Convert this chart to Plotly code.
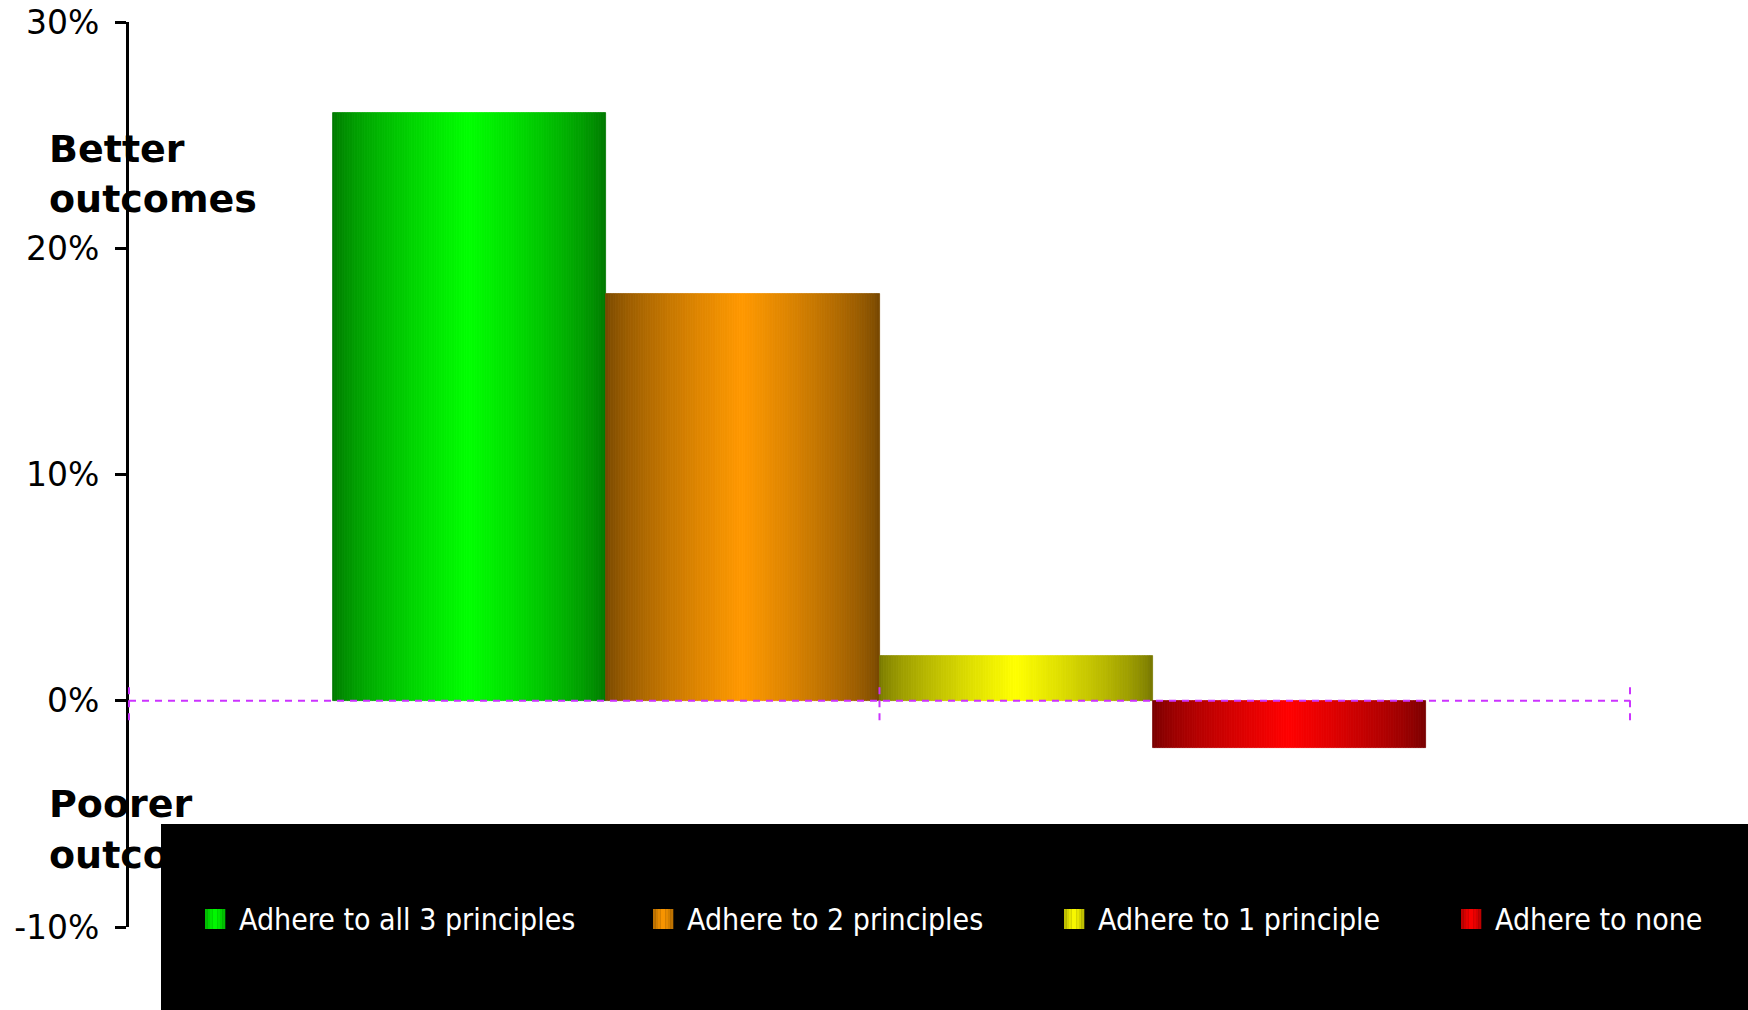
import plotly.graph_objects as go

# ---------------- data ----------------
series_names = ["Adhere to all 3 principles", "Adhere to 2 principles",
                "Adhere to 1 principle", "Adhere to none"]
values = [26.0, 18.0, 2.0, -2.1]
bright_colors = [(0, 255, 0), (255, 153, 0), (255, 255, 0), (255, 0, 0)]
y_tickvals = [-10, 0, 10, 20, 30]
y_ticktext = ["-10%", "0%", "10%", "20%", "30%"]
side_lines = ["Better", "outcomes", "Poorer", "outcomes"]

# ---------------- layout geometry (pixels) ----------------
W, H = 1748, 1010
L, R, T, B = 129, 1630, 22, 927      # plot area
PW, PH = R - L, B - T
YMIN, YMAX = -10, 30


def px_x(px):
    return (px - L) / PW


def px_y(py):
    return (B - py) / PH


def shade(rgb, f):
    return "rgb(%d,%d,%d)" % tuple(round(c * f) for c in rgb)


def grad_factor(t, dark):
    tri = 1 - abs(2 * t - 1)
    return dark + (1 - dark) * tri ** 0.7


fig = go.Figure()

# bars drawn as gradient slices
group_left = px_x(333) - 0.5
bar_w = (1426 - 333) / 4 / PW
K = 110
for i, (name, v, rgb) in enumerate(zip(series_names, values, bright_colors)):
    left = group_left + i * bar_w
    s = bar_w / K
    xs = [left + (j + 0.5) * s for j in range(K)]
    cols = [shade(rgb, grad_factor((j + 0.5) / K, 0.46)) for j in range(K)]
    fig.add_trace(go.Bar(
        x=xs, y=[v] * K, width=[s] * K, name=name,
        marker=dict(color=cols, line=dict(color=cols, width=0.8)),
        showlegend=False, hoverinfo="skip",
    ))

shapes = []
dash_col = "#cc33ff"
zero_p = (0 - YMIN) / (YMAX - YMIN)
shapes.append(dict(type="line", xref="paper", yref="paper", x0=0, x1=1,
                   y0=zero_p, y1=zero_p, layer="above",
                   line=dict(color=dash_col, width=2, dash="7px,6px")))
tick_half = 19.5 / PH
for xp in [0, 0.5, 1]:
    shapes.append(dict(type="line", xref="paper", yref="paper", x0=xp, x1=xp,
                       y0=zero_p - tick_half, y1=zero_p + tick_half, layer="above",
                       line=dict(color=dash_col, width=2, dash="7px,6px")))

# legend box
shapes.append(dict(type="rect", xref="paper", yref="paper",
                   x0=px_x(161), x1=px_x(W + 10), y0=px_y(H + 10), y1=px_y(824),
                   fillcolor="black", line=dict(width=0), layer="above"))

annotations = []
legend_text_x = [237, 685, 1096, 1493]
legend_cy = 919
for name, rgb, tx in zip(series_names, bright_colors, legend_text_x):
    sx0 = tx - 32
    n = 8
    for j in range(n):
        f = grad_factor((j + 0.5) / n * 0.8 + 0.1, 0.55)
        shapes.append(dict(type="rect", xref="paper", yref="paper",
                           x0=px_x(sx0 + j * 20 / n), x1=px_x(sx0 + (j + 1) * 20 / n + 0.3),
                           y0=px_y(legend_cy + 10), y1=px_y(legend_cy - 10),
                           fillcolor=shade(rgb, f), line=dict(width=0), layer="above"))
    annotations.append(dict(text=name, xref="paper", yref="paper",
                            x=px_x(tx), y=px_y(legend_cy), xanchor="left", yanchor="middle",
                            showarrow=False,
                            font=dict(family="DejaVu Sans Condensed, Liberation Sans Narrow, sans-serif",
                                      size=30, color="white")))

side_baselines = [162, 212, 817, 868]
for txt, bl in zip(side_lines, side_baselines):
    annotations.append(dict(text="<b>%s</b>" % txt, xref="paper", yref="paper",
                            x=px_x(47), y=px_y(bl - 13), xanchor="left", yanchor="middle",
                            align="left", showarrow=False,
                            font=dict(family="DejaVu Sans", size=38, color="black")))

fig.update_layout(
    width=W, height=H, autosize=False,
    margin=dict(l=L, r=W - R, t=T, b=H - B, pad=0, autoexpand=False),
    paper_bgcolor="white", plot_bgcolor="white",
    barmode="overlay", bargap=0,
    showlegend=False,
    shapes=shapes, annotations=annotations,
    xaxis=dict(range=[-0.5, 0.5], visible=False, showgrid=False, zeroline=False, fixedrange=True),
    yaxis=dict(range=[YMIN, YMAX], tickvals=y_tickvals, ticktext=y_ticktext,
               showgrid=False, zeroline=False, showline=True, linecolor="black", linewidth=3,
               ticks="outside", ticklen=11, tickwidth=3, tickcolor="black",
               ticklabelstandoff=9, ticklabeloverflow="allow", automargin=False,
               tickfont=dict(family="DejaVu Sans", size=33, color="black")),
)

fig.write_html(
    "out.html",
    config={"displayModeBar": False},
    post_script="document.body.style.margin='0';document.documentElement.style.overflow='hidden';",
)
